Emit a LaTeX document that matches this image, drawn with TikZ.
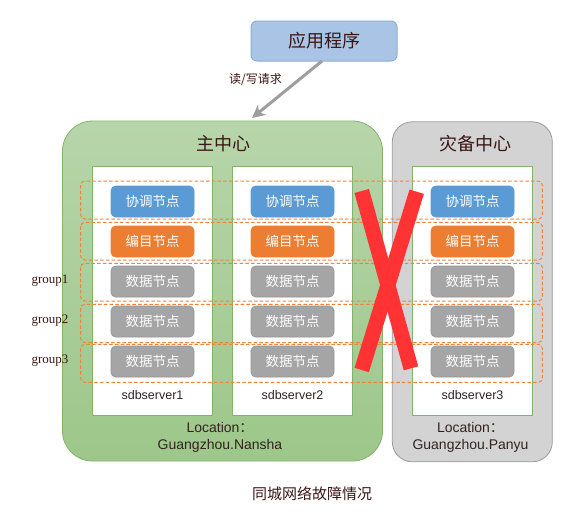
\documentclass[tikz,border=0pt]{standalone}
\usepackage{fontspec}
\setmainfont{Liberation Sans}
\newfontfamily\cjk{Noto Sans CJK SC}
\newfontfamily\serifface{Liberation Serif}
\usetikzlibrary{arrows.meta}

\definecolor{appfill}{HTML}{A9C4E4}
\definecolor{appedge}{HTML}{8FADD6}
\definecolor{maintop}{HTML}{B7D5AA}
\definecolor{mainbot}{HTML}{9DC78A}
\definecolor{mainedge}{HTML}{82B366}
\definecolor{drfill}{HTML}{D3D3D3}
\definecolor{dredge}{HTML}{9A9A9A}
\definecolor{bluefill}{HTML}{5B9BD5}
\definecolor{orangefill}{HTML}{ED7D31}
\definecolor{grayfill}{HTML}{A5A5A5}
\definecolor{grayedge}{HTML}{959595}
\definecolor{groupline}{HTML}{F0833A}
\definecolor{crossred}{HTML}{FF3333}
\definecolor{arrowgray}{HTML}{9E9E9E}
\definecolor{inktext}{HTML}{3A1515}
\definecolor{latintext}{HTML}{332222}

\begin{document}
\begin{tikzpicture}[x=1pt,y=-1pt,
  every node/.style={inner sep=0pt, outer sep=0pt},
  appbox/.style={draw=appedge, fill=appfill, line width=1pt, rounded corners=6pt,
    minimum width=146pt, minimum height=40pt, text=inktext,
    font=\cjk\fontsize{18}{18}\selectfont},
  maincenter/.style={draw=mainedge, line width=0.8pt, top color=maintop, bottom color=mainbot,
    rounded corners=30pt, minimum width=320pt, minimum height=340pt},
  drcenter/.style={draw=dredge, line width=0.8pt, fill=drfill,
    rounded corners=20pt, minimum width=160pt, minimum height=340pt},
  server/.style={draw=mainedge, line width=0.8pt, fill=white,
    minimum width=120pt, minimum height=249pt},
  role/.style={rounded corners=4.5pt, minimum width=83pt, minimum height=31pt,
    line width=0.6pt, text=white, font=\cjk\fontsize{13.5}{13.5}\selectfont},
  coordrole/.style={role, fill=bluefill, draw=bluefill},
  catalogrole/.style={role, fill=orangefill, draw=orangefill},
  datarole/.style={role, fill=grayfill, draw=grayedge},
  grouprect/.style={draw=groupline, line width=1pt, dash pattern=on 3.5pt off 2.2pt,
    rounded corners=4pt},
  crossbar/.style={draw=crossred, line width=15pt},
  title/.style={text=inktext, font=\cjk\fontsize{18}{18}\selectfont},
  servername/.style={text=latintext, font=\fontsize{12.5}{12.5}\selectfont},
  location/.style={text=latintext, align=center, font=\fontsize{14}{17}\selectfont},
  grouplabel/.style={text=inktext, font=\serifface\fontsize{13}{13}\selectfont},
  reqarrow/.style={draw=arrowgray, line width=3pt,
    -{Stealth[length=13pt,width=13pt,inset=4pt]}}
]
\useasboundingbox (0,0) rectangle (577,522);

% data centres
\node[maincenter] (main) at (222.5,291) {};
\node[drcenter] (dr) at (472.3,291.8) {};
\node[title] (maintitle) at (223.3,143.5) {主中心};
\node[title] (drtitle) at (475.8,143.5) {灾备中心};

% servers
\node[server] (srv1) at (152.3,291.3) {};
\node[server] (srv2) at (292.3,291.3) {};
\node[server] (srv3) at (472.5,291.3) {};

% replication groups (dashed bands across all servers)
\draw[grouprect] (80.7,181) rectangle (542.3,219);
\draw[grouprect] (80.7,222.3) rectangle (542.3,260);
\draw[grouprect] (80.7,263.3) rectangle (542.3,301);
\draw[grouprect] (80.7,304.3) rectangle (542.3,342.5);
\draw[grouprect] (80.7,344.3) rectangle (542.3,382.3);

% node roles per server
\foreach \s/\x in {1/152.5, 2/292.5, 3/472.5} {
  \node[coordrole]   (coord\s) at (\x,201.5) {协调节点};
  \node[catalogrole] (cat\s)   at (\x,241.5) {编目节点};
  \node[datarole]    (dataA\s) at (\x,281.5) {数据节点};
  \node[datarole]    (dataB\s) at (\x,321.5) {数据节点};
  \node[datarole]    (dataC\s) at (\x,361.5) {数据节点};
}

% server names
\node[servername] (name1) at (152.5,395) {sdbserver1};
\node[servername] (name2) at (292.5,395) {sdbserver2};
\node[servername] (name3) at (472.5,395) {sdbserver3};

% locations
\node[location] (locmain) at (220,437.5) {Location{\cjk ：}\\Guangzhou.Nansha};
\node[location] (locdr) at (470.5,437) {Location{\cjk ：}\\Guangzhou.Panyu};

% group labels
\node[grouplabel] (g1) at (50,281) {group1};
\node[grouplabel] (g2) at (50,321) {group2};
\node[grouplabel] (g3) at (50,361) {group3};

% network failure between the two centres
\draw[crossbar] (361.7,191) -- (411,368.3);
\draw[crossbar] (416.7,191.7) -- (361.7,370);

% application and its request
\node[appbox] (app) at (324,41) {应用程序};
\coordinate (reqtip) at (252,118);
\draw[reqarrow] ([xshift=-2pt]app.south) -- (reqtip);
\node[text=inktext, font=\cjk\fontsize{12}{12}\selectfont] (reqlabel) at (255.5,80) {读/写请求};

% caption
\node[text=inktext, font=\cjk\fontsize{15}{15}\selectfont] (caption) at (312,493.5) {同城网络故障情况};
\end{tikzpicture}
\end{document}
